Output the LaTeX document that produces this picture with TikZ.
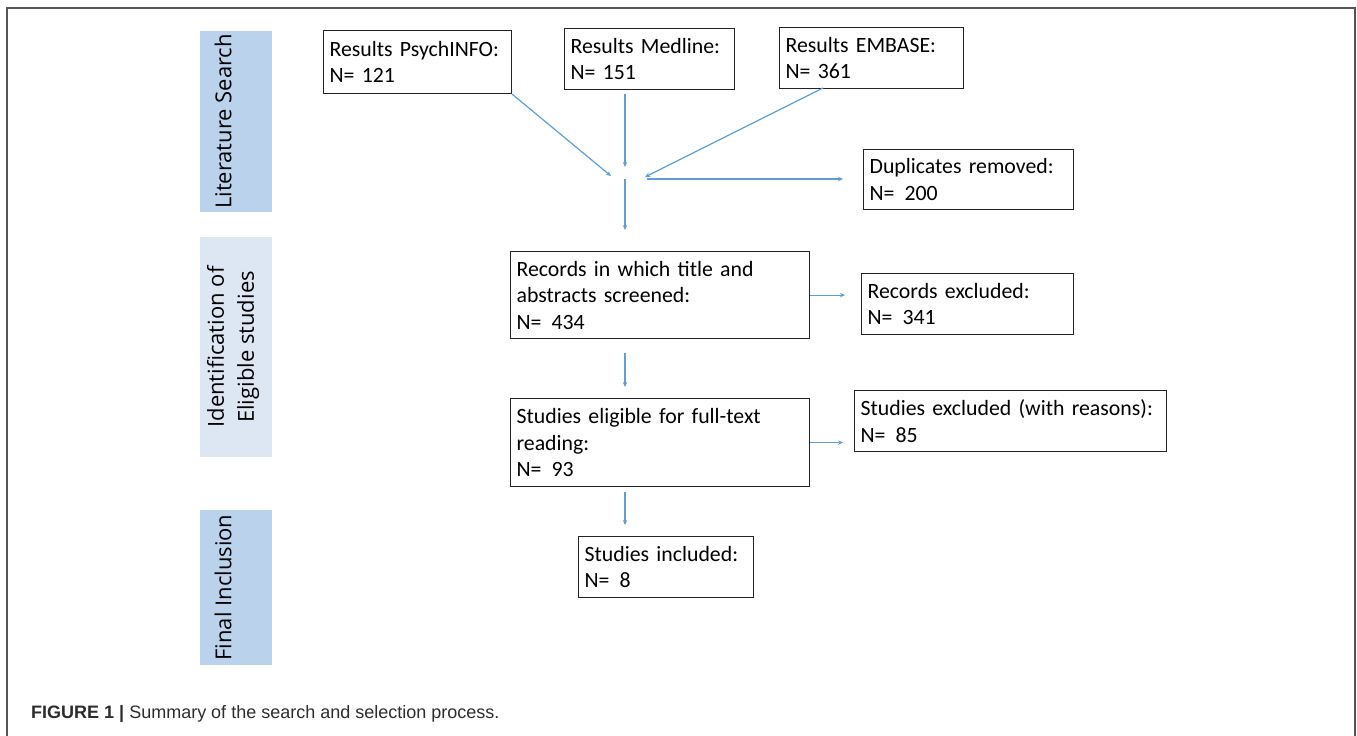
\documentclass[tikz,border=0pt]{standalone}
\usepackage{fontspec}
\setmainfont[WordSpace=0.85]{Carlito}
\newfontfamily\bandfont{Open Sans}
\newfontfamily\capfont{Liberation Sans}
\usetikzlibrary{arrows.meta,calc}
\definecolor{bandA}{RGB}{187,210,236}
\definecolor{bandB}{RGB}{221,231,243}
\definecolor{arrowblue}{RGB}{96,157,214}
\definecolor{boxline}{RGB}{35,35,35}
\definecolor{framegray}{RGB}{85,85,85}
\definecolor{captext}{RGB}{45,45,45}
\newcommand{\ngap}{\hspace{10pt}}
\tikzset{
  flowbox/.style={draw=boxline, line width=1.2pt, anchor=north west, inner xsep=6pt, inner ysep=0pt,
    align=left, font=\fontsize{21.8}{26.5}\selectfont, text=black},
  arr/.style={draw=arrowblue, line width=1.2pt, -{Stealth[length=5pt,width=4.5pt]}},
  bandbox/.style={anchor=north west, inner sep=0pt, minimum width=72pt},
  bandtext/.style={rotate=90, font=\bandfont\fontsize{22}{30}\selectfont, text=black, align=center, inner sep=0pt},
}
\begin{document}
\begin{tikzpicture}[x=1pt,y=-1pt]
\useasboundingbox (0,0) rectangle (1357,736);
% outer frame
\draw[framegray, line width=2pt] (7,736) -- (7,8) -- (1355,8) -- (1355,736);

% side bands
\node[bandbox, fill=bandA, minimum height=181pt] (litband) at (200,31) {};
\node[bandtext] (littext) at (223,121.5) {Literature Search};
\node[bandbox, fill=bandB, minimum height=220pt] (idband) at (200,237) {};
\node[bandtext] (idtext) at (233,347) {Identification of\\Eligible studies};
\node[bandbox, fill=bandA, minimum height=155pt] (finband) at (200,510) {};
\node[bandtext] (fintext) at (223,587.5) {Final Inclusion};

% boxes
\node[flowbox, minimum height=63pt, text width=176pt] (psy) at (323,30) {Results PsychINFO:\\N= 121};
\node[flowbox, minimum height=61pt, text width=158pt] (med) at (564,28) {Results Medline:\\N= 151};
\node[flowbox, minimum height=61pt, text width=172pt] (emb) at (779,27) {Results EMBASE:\\N= 361};
\node[flowbox, minimum height=60pt, text width=198pt] (dup) at (863,149) {Duplicates removed:\\N=\ngap200};
\node[flowbox, minimum height=87pt, text width=287pt] (rec) at (510,251) {Records in which title and\\abstracts screened:\\N=\ngap434};
\node[flowbox, minimum height=61pt, text width=200pt] (rexc) at (861,273) {Records excluded:\\N=\ngap341};
\node[flowbox, minimum height=88pt, text width=287pt] (elig) at (510,398) {Studies eligible for full-text\\reading:\\N=\ngap93};
\node[flowbox, minimum height=61pt, text width=300pt] (sexc) at (854,390) {Studies excluded (with reasons):\\N=\ngap85};
\node[flowbox, minimum height=61pt, text width=163pt] (inc) at (578,536) {Studies included:\\N=\ngap8};

% merge point coordinates
\coordinate (mL) at (611,176);
\coordinate (mT) at (625,167);
\coordinate (mR) at (645,177);
\coordinate (mB) at (625,179);
\coordinate (mE) at (647,179);
\coordinate (eS) at (823,88);
\coordinate (vx) at (625,0);

% connectors
\draw[arr] (psy.south east) -- (mL);
\draw[arr, shorten <=4pt] (mT |- med.south) -- (mT);
\draw[arr] (eS) -- (mR);
\draw[arr, shorten >=21pt] (mB) -- (mB |- rec.north);
\draw[arr, shorten >=20pt] (mE) -- (dup.west |- mE);
\draw[arr, shorten >=16pt] (rec.east) -- (rexc.west |- rec.east);
\draw[arr, shorten <=14pt, shorten >=11pt] (vx |- rec.south) -- (vx |- elig.north);
\draw[arr, shorten >=11pt] (elig.east) -- (sexc.west |- elig.east);
\draw[arr, shorten <=5pt, shorten >=11pt] (vx |- elig.south) -- (vx |- inc.north);

% caption
\node[anchor=base west, font=\capfont\fontsize{18}{20}\selectfont, text=captext, inner sep=0pt] (cap) at (31,718)
  {\textbf{FIGURE 1 |} Summary of the search and selection process.};
\end{tikzpicture}
\end{document}
